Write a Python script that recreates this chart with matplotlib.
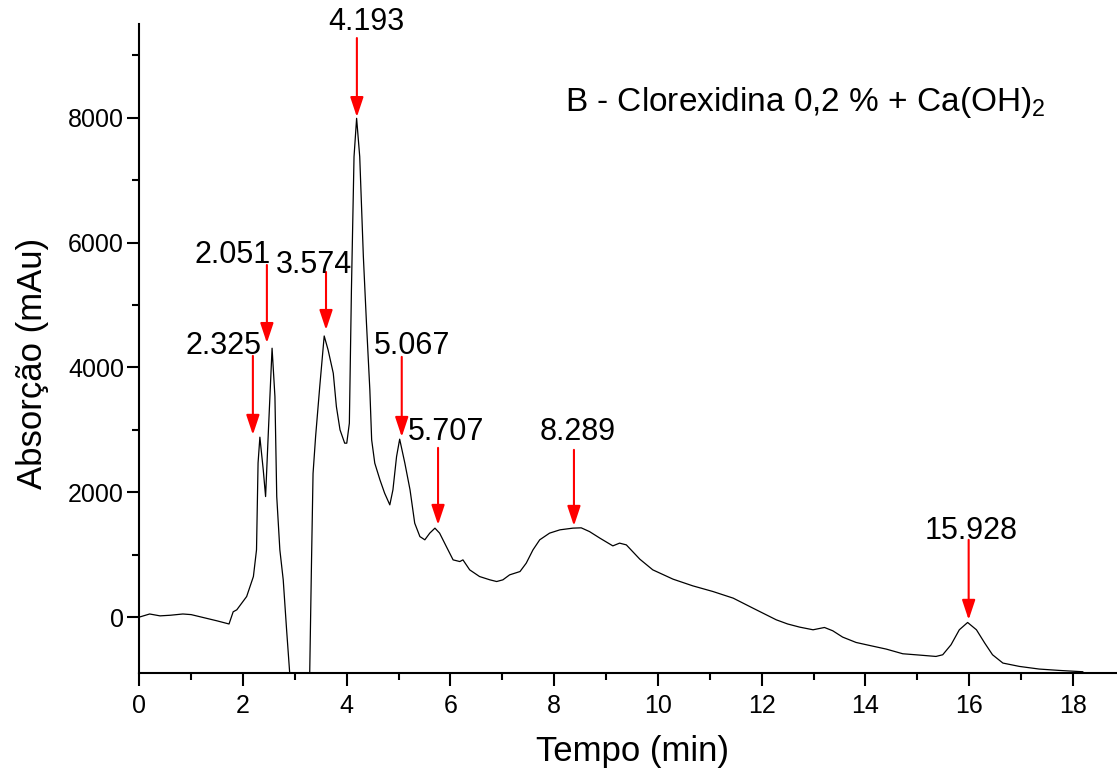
import numpy as np
import matplotlib.pyplot as plt
from matplotlib.ticker import MultipleLocator

plt.rcParams['font.family'] = ['Liberation Sans', 'DejaVu Sans']
plt.rcParams['mathtext.fontset'] = 'custom'
plt.rcParams['mathtext.rm'] = 'Liberation Sans'

# Cromatograma
tempo = [0.0, 0.2, 0.4, 0.6, 0.84, 1.0, 1.3, 1.5, 1.73, 1.81, 1.88, 2.07, 2.20, 2.26,
         2.29, 2.325, 2.39, 2.435, 2.49, 2.56, 2.615, 2.65, 2.71, 2.775, 2.84, 2.90,
         2.97, 3.27, 3.32, 3.35, 3.40, 3.48, 3.565, 3.64, 3.74, 3.80, 3.87, 3.96, 4.0,
         4.05, 4.09, 4.14, 4.19, 4.25, 4.32, 4.38, 4.445, 4.48, 4.54, 4.64, 4.73, 4.83,
         4.89, 4.96, 5.02, 5.12, 5.22, 5.31, 5.41, 5.505, 5.60, 5.70, 5.79, 5.92, 6.05,
         6.18, 6.24, 6.37, 6.56, 6.76, 6.89, 7.01, 7.14, 7.34, 7.46, 7.59, 7.72, 7.91,
         8.11, 8.36, 8.52, 8.68, 8.88, 9.13, 9.26, 9.39, 9.65, 9.90, 10.29, 10.67,
         11.06, 11.45, 11.83, 12.28, 12.5, 12.73, 12.99, 13.21, 13.37, 13.56, 13.82,
         14.08, 14.40, 14.72, 15.04, 15.36, 15.49, 15.65, 15.81, 15.97, 16.14, 16.30,
         16.45, 16.65, 16.97, 17.35, 17.74, 18.19]
absorcao = [0, 50, 20, 30, 50, 40, -20, -60, -110, 85, 117, 330, 650, 1077,
            2470, 2882, 2358, 1931, 3000, 4307, 3532, 1931, 1077, 597, -203, -897,
            -1700, -1700, 870, 2300, 2900, 3700, 4503, 4280, 3906, 3372, 2999, 2786, 2786,
            3106, 5240, 7374, 7989, 7374, 5773, 4707, 3639, 2839, 2466, 2198, 1985, 1798,
            2038, 2571, 2850, 2466, 2038, 1505, 1290, 1238, 1345, 1425, 1345, 1130, 917,
            890, 917, 757, 650, 597, 570, 597, 677, 730, 864, 1077, 1238, 1345,
            1398, 1425, 1430, 1370, 1265, 1141, 1185, 1157, 928, 757, 608, 501,
            410, 304, 144, -43, -110, -160, -203, -166, -219, -320, -406,
            -454, -512, -587, -608, -630, -603, -443, -203, -86, -203, -416,
            -603, -736, -790, -832, -854, -875]

# Picos marcados
picos = ['4.193', '2.051', '3.574', '2.325', '5.067', '5.707', '8.289', '15.928']
seta_x = [4.195, 2.46, 3.60, 2.19, 5.06, 5.76, 8.38, 15.99]
seta_ponta = [8010, 4391, 4600, 2920, 2887, 1478, 1462, -43]
seta_cauda = [9275, 5640, 5528, 4184, 4168, 2711, 2679, 1238]
texto_x = [4.37, 1.79, 3.37, 1.63, 5.25, 5.91, 8.45, 16.04]
texto_y = [9530, 5800, 5640, 4344, 4344, 2967, 2967, 1382]

fig = plt.figure(figsize=(11.17, 7.74), dpi=100)
ax = fig.add_axes([0.1247, 0.1301, 1 - 0.1247, 0.969 - 0.1301])

ax.plot(tempo, absorcao, color='black', lw=0.9)

for lab, x, yp, yc, tx, ty in zip(picos, seta_x, seta_ponta, seta_cauda, texto_x, texto_y):
    ax.annotate('', xy=(x, yp), xytext=(x, yc),
                arrowprops=dict(arrowstyle='-|>,head_length=0.6,head_width=0.2',
                                color='red', lw=1.5, mutation_scale=20,
                                shrinkA=0, shrinkB=0))
    ax.text(tx, ty, lab, fontsize=22, ha='center', va='center', clip_on=False)

ax.set_xlim(0, 18.85)
ax.set_ylim(-900, 9500)
ax.xaxis.set_major_locator(MultipleLocator(2))
ax.xaxis.set_minor_locator(MultipleLocator(1))
ax.set_yticks([0, 2000, 4000, 6000, 8000])
ax.set_yticks([1000, 3000, 5000, 7000, 9000], minor=True)

for s in ['top', 'right']:
    ax.spines[s].set_visible(False)
for s in ['left', 'bottom']:
    ax.spines[s].set_linewidth(1.5)

ax.tick_params(which='major', direction='out', length=9, width=1.5, labelsize=18)
ax.tick_params(which='minor', direction='out', length=5, width=1.5)
ax.tick_params(axis='y', which='major', pad=2)
ax.tick_params(axis='x', which='major', pad=6)

fig.text(565 / 1117, 1 - 103 / 774, r'B - Clorexidina 0,2 % + Ca(OH)$_{\mathregular{2}}$',
         fontsize=24, ha='left', va='center')
fig.text(632 / 1117, 1 - 752 / 774, 'Tempo (min)', fontsize=25, ha='center', va='center')
fig.text(33 / 1117, 1 - 363 / 774, 'Absorção (mAu)', fontsize=25, ha='center',
         va='center', rotation=90)

fig.savefig('out.png', dpi=100)
